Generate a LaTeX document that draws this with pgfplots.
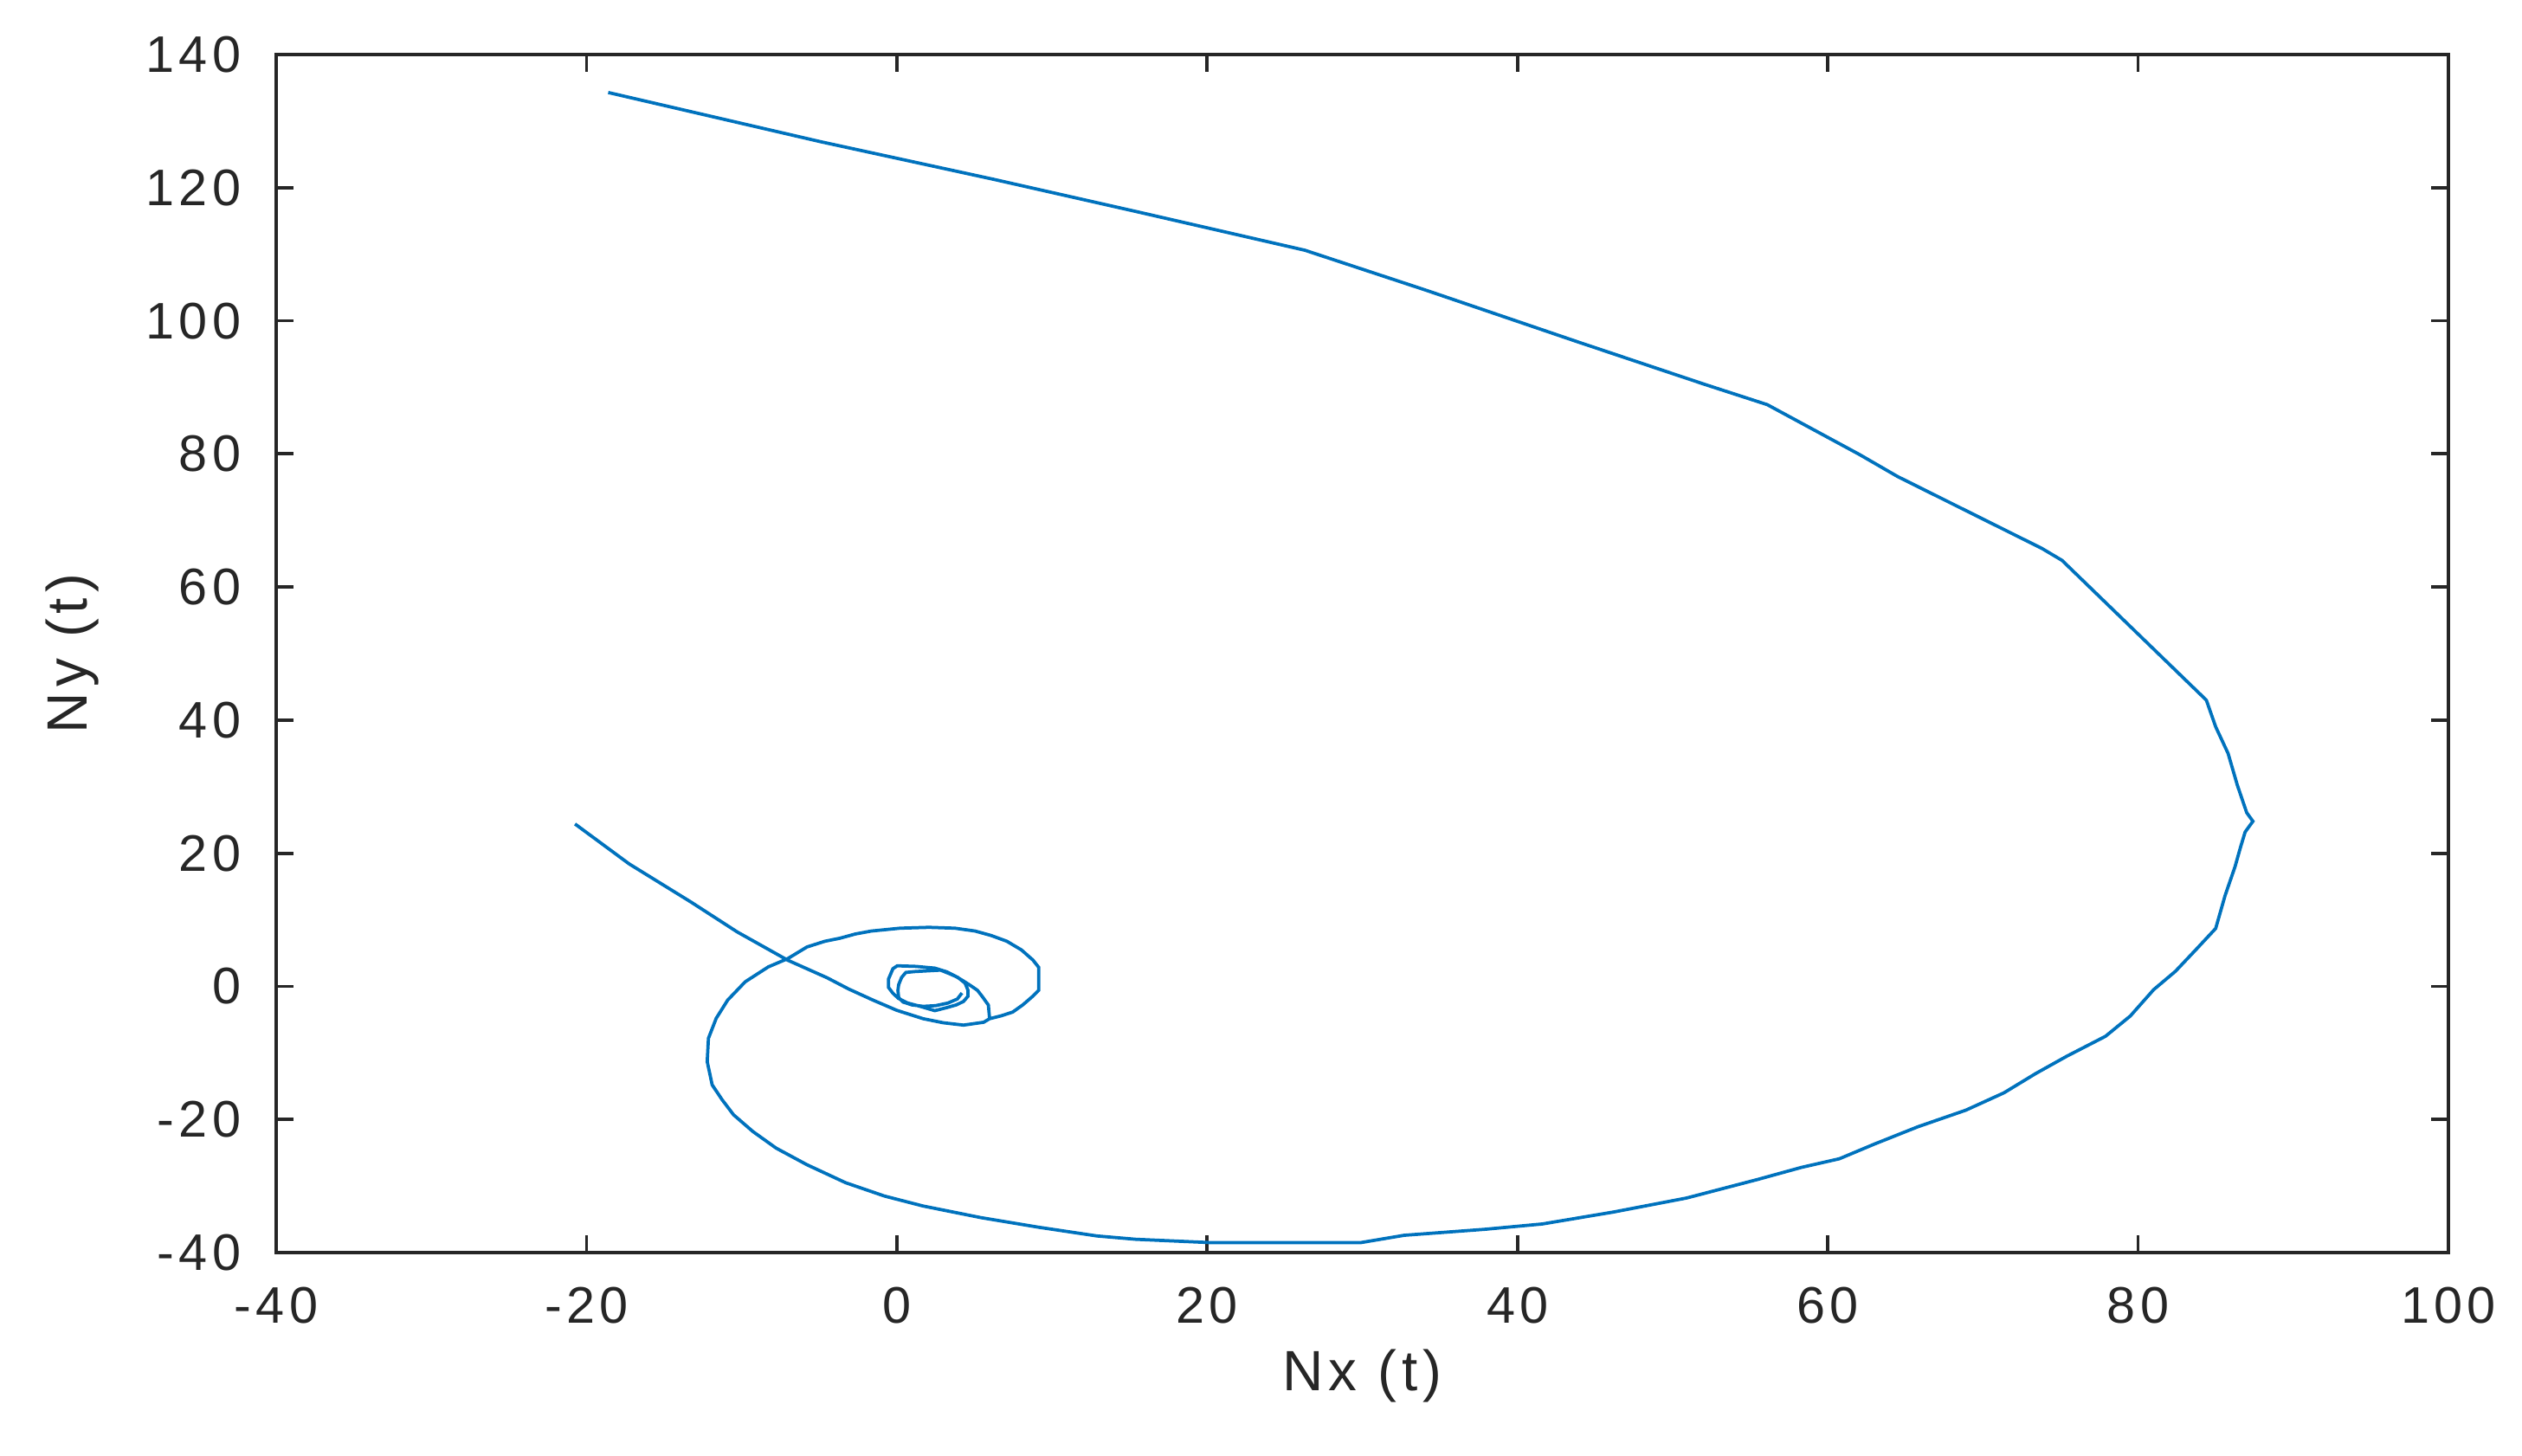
\documentclass[border=0pt]{standalone}
\usepackage{pgfplots}
\pgfplotsset{compat=1.18}
\usepackage{fontspec}
\setmainfont{Liberation Sans}[LetterSpace=9]
\definecolor{mblue}{RGB}{0,114,189}
\definecolor{mgray}{RGB}{38,38,38}
\begin{document}
\begin{tikzpicture}
\useasboundingbox (-51.04pt,-37.44pt) rectangle (415.04pt,231.52pt);
\begin{axis}[
  at={(0,0)}, anchor=south west,
  scale only axis,
  width=401.44pt, height=221.44pt,
  xmin=-40, xmax=100, ymin=-40, ymax=140,
  xtick={-40,-20,...,100}, ytick={-40,-20,...,140},
  tick align=inside, major tick length=3.2pt,
  axis line style={mgray, line width=0.6pt},
  every tick/.style={mgray, line width=0.6pt},
  /pgf/number format/assume math mode=true,
  tick label style={font=\fontsize{9.5}{10}\selectfont, text=mgray},
  xticklabel style={yshift=-2.9pt},
  yticklabel style={xshift=-3.0pt},
  label style={font=\fontsize{10.5}{12}\selectfont, text=mgray},
  xlabel={Nx (t)}, ylabel={Ny (t)},
  xlabel style={at={(axis description cs:0.5,-0.1026)}, anchor=center},
  ylabel style={at={(axis description cs:-0.0937,0.5)}, anchor=center},
]
\addplot[mblue, line width=0.6pt] coordinates {
(-18.6,134.3) (-4.9,126.9) (6.25,121.25) (15.55,116.35) (26.3,110.6) (34.15,104.56)
(43.8,96.9) (52.0,90.5) (56.1,87.4) (62.05,79.9) (64.5,76.6) (73.8,65.8) (75.1,64.0)
(84.4,43.0) (85.0,39.0) (85.8,35.0) (86.4,30.2) (87.0,26.1) (87.4,24.8) (86.9,23.2)
(86.6,20.9) (86.25,18.0) (85.6,13.6) (85.0,8.7) (84.4,7.2) (83.7,5.45) (82.4,2.25)
(81.0,-0.5) (79.5,-4.45) (77.9,-7.5) (75.4,-10.5) (73.4,-13.1) (71.35,-16.0)
(68.9,-18.6) (65.8,-21.1) (63.0,-23.7) (60.75,-25.9) (58.3,-27.2) (55.5,-29.0)
(50.9,-31.8) (46.2,-33.9) (41.6,-35.7) (37.9,-36.5) (32.7,-37.4) (29.9,-38.5)
(20.2,-38.5) (15.4,-38.0) (12.9,-37.5) (9.17,-36.2) (5.43,-34.75) (1.69,-33.0)
(-0.8,-31.5) (-3.3,-29.5) (-5.79,-26.8) (-7.78,-24.3) (-9.28,-21.8) (-10.52,-19.3)
(-11.27,-17.0) (-11.9,-14.8) (-12.22,-11.3) (-12.14,-7.8) (-11.64,-4.8) (-10.9,-2.06)
(-9.77,0.69) (-8.28,2.93) (-7.03,4.17) (-5.79,5.92) (-4.63,6.78) (-3.69,7.22)
(-2.67,7.87) (-1.65,8.31) (0.21,8.74) (2.07,8.87) (3.75,8.74) (5.05,8.31) (6.07,7.65)
(7.09,6.78) (8.03,5.48) (8.77,3.96) (9.14,2.87) (9.14,-0.6) (8.77,-1.47) (8.12,-2.78)
(7.47,-3.86) (6.72,-4.43) (5.98,-4.86) (5.9,-2.8) (5.5,-1.5) (5.2,-0.6) (4.8,0.05)
(4.3,0.8) (3.8,1.5) (3.2,2.2) (2.45,2.74) (1.24,3.0) (0.03,3.09) (-0.25,2.66)
(-0.53,1.13) (-0.53,-0.17) (-0.25,-1.04) (0.1,-1.8) (0.7,-2.5) (1.5,-3.0) (2.45,-3.65)
(3.19,-3.21) (3.84,-2.78) (4.30,-2.26) (4.59,-1.47) (4.59,-0.6) (4.40,0.48) (3.93,1.35)
(3.38,1.92) (2.82,2.44) (1.14,2.22) (0.58,2.09) (0.31,1.35) (0.12,0.26) (0.07,-0.6)
(0.12,-1.69) (0.40,-2.35) (0.96,-2.78) (1.70,-3.0) (2.5,-2.9) (3.3,-2.5) (3.9,-1.9)
(4.2,-1.0)
};
\addplot[mblue, line width=0.6pt] coordinates {
(-20.74,24.4) (-17.25,18.4) (-13.26,12.66) (-10.28,8.17) (-7.03,3.93) (-4.5,1.3)
(-3.1,-0.4) (-1.5,-2.1) (0.0,-3.6) (1.7,-4.86) (3.0,-5.47) (4.3,-5.82) (5.6,-5.39)
(5.95,-4.9)
};
\end{axis}
\end{tikzpicture}
\end{document}
